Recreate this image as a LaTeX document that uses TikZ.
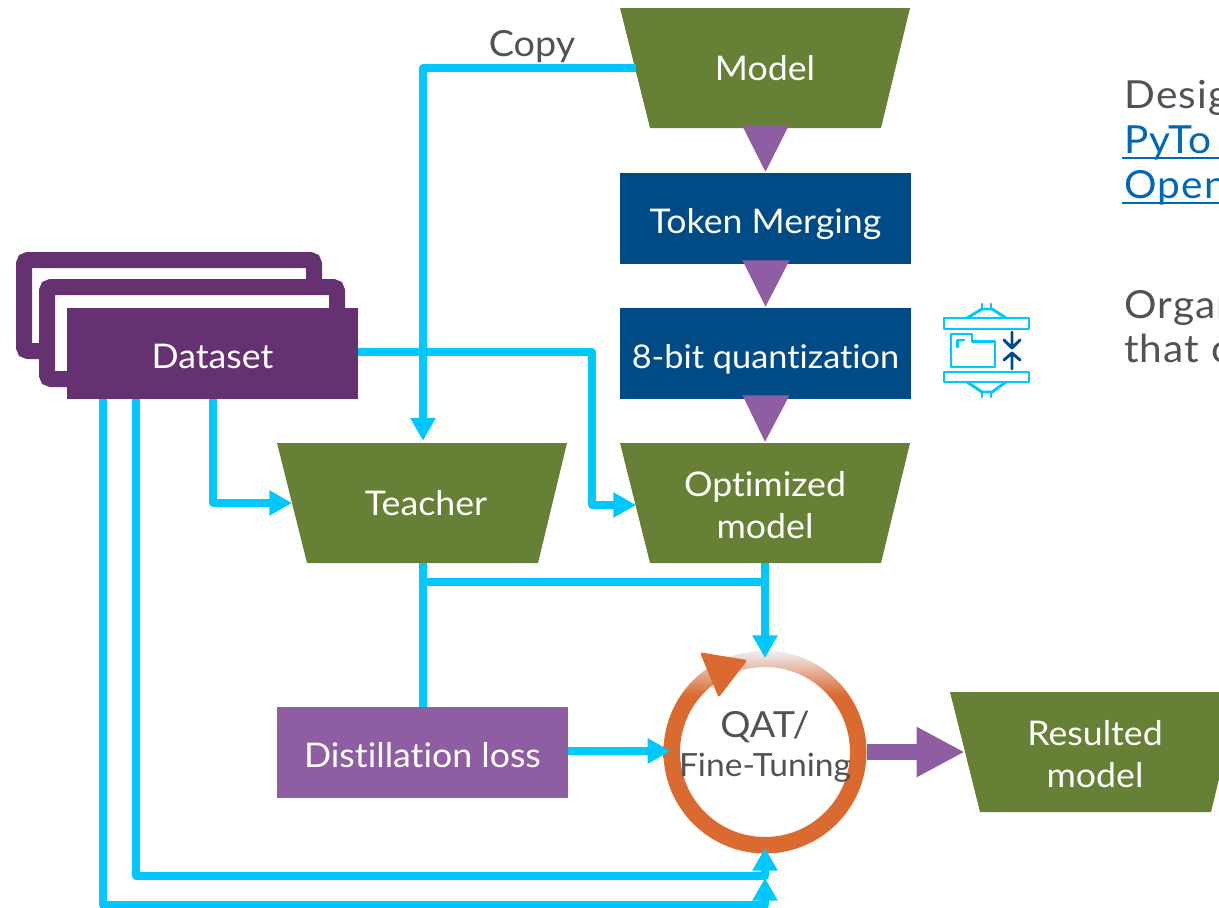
\documentclass[tikz,border=0pt]{standalone}
\usepackage{fontspec}
\setmainfont[FakeStretch=1.05,Ligatures=NoCommon]{Lato}
\usetikzlibrary{arrows.meta,calc}
\definecolor{cy}{HTML}{00C7FD}
\definecolor{grn}{HTML}{668136}
\definecolor{nav}{HTML}{004A86}
\definecolor{pur}{HTML}{8F5DA2}
\definecolor{dpur}{HTML}{653171}
\definecolor{org}{HTML}{DA6A30}
\definecolor{gry}{HTML}{525252}
\definecolor{lnk}{HTML}{0068B5}
\definecolor{pale}{HTML}{F0F0F4}
\pgfdeclareverticalshading{ringfade}{100bp}{color(0bp)=(org); color(64bp)=(org); color(75bp)=(pale); color(100bp)=(pale)}
\tikzset{
  x=0.75pt,y=-0.75pt,
  trap/.style={rectangle,draw=none,minimum width=217.5pt,minimum height=90pt,inner sep=0pt,text=white,
     font=\fontsize{25.5}{31}\selectfont,align=center,
     path picture={\fill[grn] (path picture bounding box.north west) -- (path picture bounding box.north east)
       -- ($(path picture bounding box.south east)+(-29,0)$) -- ($(path picture bounding box.south west)+(30,0)$) -- cycle;}},
  box/.style={rectangle,draw=none,minimum width=218.25pt,minimum height=68.25pt,inner sep=0pt,text=white,
     text height=22pt,text depth=0pt,font=\fontsize{25.5}{30}\selectfont},
  flow/.style={draw=cy,line width=5.5pt,line join=round,-{Triangle[length=17pt,width=18pt]}},
  plainflow/.style={draw=cy,line width=5.5pt,line join=round},
  frame/.style={draw=dpur,line width=12pt,fill=white,rounded corners=3pt},
  side/.style={anchor=base west,font=\fontsize{29}{33}\selectfont\addfontfeature{LetterSpace=3},text=gry,inner sep=0pt},
  icon/.style={draw=cy,line width=2.2pt,line join=round,line cap=round},
  iconb/.style={draw=nav,line width=2.2pt,line join=round,line cap=round},
  ulink/.style={draw=lnk,line width=2pt},
}
\begin{document}
\begin{tikzpicture}
\useasboundingbox (0,0) rectangle (1219,907);
\clip (0,0) rectangle (1219,907);
% nodes
\node[trap] (model) at (765,68) {Model};
\node[box,fill=nav] (token) at (765.5,218.5) {Token Merging};
\node[box,fill=nav,font=\fontsize{24.5}{30}\selectfont] (quant) at (765.5,353.5) {8-bit quantization};
\node[trap] (optim) at (765,503) {\rule{0pt}{22pt}Optimized\\model};
\node[trap] (teacher) at (422,503) {\hspace*{6pt}Teacher};
\node[box,fill=pur] (dist) at (422.5,752.5) {Distillation loss};
\node[trap] (result) at (1095,752) {\rule{0pt}{22pt}Resulted\\model};
\draw[frame] (24,260) rectangle (314,351);
\draw[frame] (47,287) rectangle (337,379);
% ring
\node[circle,minimum size=152pt,inner sep=0pt] (qat) at (765,752) {};
\path[even odd rule,shading=ringfade] (qat.center) circle[radius=101.5] (qat.center) circle[radius=85];
\draw[fill=org,draw=org,line width=2pt,line join=round] (702,654) -- (745,661) -- (719,695) -- cycle;
\node[font=\fontsize{27}{32}\selectfont,text=gry,inner sep=0pt] (qatt) at (765,727) {QAT/};
\node[font=\fontsize{24}{28}\selectfont,text=gry,inner sep=0pt] (fine) at (765,768) {Fine-Tuning};
% connectors
\coordinate (dsR) at (358,352);
\coordinate (dsA) at (103,399);
\coordinate (dsB) at (136,399);
\coordinate (dsC) at (213,399);
\draw[flow] ($(model.west)+(16,0)$) -- (423,68) -- ($(teacher.north)+(1,-2)$);
\draw[flow] (dsR) -- (592,352) -- (592,505) -- (636,505);
\draw[flow] (dsC) -- (213,503) -- (292,503);
\draw[plainflow] ($(teacher.south)+(1,0)$) -- (423,707);
\draw[plainflow] (423,582) -- (765,582);
\draw[flow] (optim.south) -- (765,658);
\draw[flow] ($(dist.east)+(0,-1.5)$) -- ($(qat.west)+(7,-1)$);
\draw[flow] (dsB) -- (136,876) -- (765,876) -- (765,848);
\draw[flow] (dsA) -- (103,905) -- (765,905) -- (765,878);
\node[rectangle,fill=dpur,minimum width=218.25pt,minimum height=68.25pt,inner sep=0pt,text=white,text height=22pt,text depth=0pt,font=\fontsize{25.5}{30}\selectfont] (dataset) at (212.5,353.5) {Dataset};
% purple connectors
\fill[pur] ($(model.south)+(-23,-3)$) -- ($(model.south)+(24,-3)$) -- ($(token.north)+(0,-1)$) -- cycle;
\fill[pur] ($(token.south)+(-23,-4)$) -- ($(token.south)+(24,-4)$) -- ($(quant.north)+(0,-1)$) -- cycle;
\fill[pur] ($(quant.south)+(-23,-4)$) -- ($(quant.south)+(24,-4)$) -- ($(optim.north)+(0,-1)$) -- cycle;
\draw[pur,line width=12pt,-{Triangle[length=36pt,width=35pt]}] (qat.east) -- ($(result.west)+(15,0)$);
% labels
\node[font=\fontsize{27}{32}\selectfont,text=gry,inner sep=0pt] (copy) at (532,47) {Copy};
\node[side] (t1) at (1124,108) {Desig};
\node[side,text=lnk] (t2) at (1124,153) {PyTo};
\node[side,text=lnk] (t3) at (1124,198) {Open};
\node[side] (t4) at (1124,318) {Organ};
\node[side] (t5) at (1124,362) {that c};
\draw[ulink] (t2.base west) ++(-2,5) -- (1219,158);
\draw[ulink] (t3.base west) ++(-2,5) -- (1219,203);
% icon
\draw[icon] (944,318) rectangle (1029,329);
\draw[icon] (944,372) rectangle (1029,382);
\draw[icon] (967,318) -- (982,309) -- (992,309) -- (1006,318);
\draw[icon] (982,309) -- (982,304) (991,309) -- (991,304);
\draw[icon] (967,382) -- (982,392) -- (992,392) -- (1006,382);
\draw[icon] (982,392) -- (982,397) (991,392) -- (991,397);
\draw[icon] (951,367) -- (951,334) -- (972,334) -- (972,341.5) -- (995,341.5) -- (995,367) -- cycle;
\draw[icon] (957.5,347) -- (957.5,340) -- (964,340);
\draw[iconb] (1012,332) -- (1012,348) (1004,340) -- (1012,348) -- (1020,340);
\draw[iconb] (1012,369) -- (1012,353) (1004,360) -- (1012,353) -- (1020,360);
\end{tikzpicture}
\end{document}
